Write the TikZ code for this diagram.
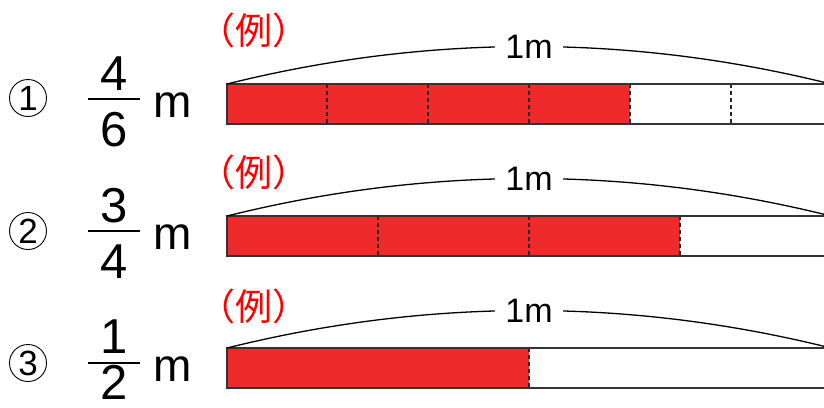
\documentclass[tikz,border=0pt]{standalone}
\usepackage{fontspec}
\setmainfont{Liberation Sans}
\newfontfamily\jpfont{Noto Sans CJK JP}
\definecolor{barred}{RGB}{238,42,42}

\tikzstyle{circnum}=[draw, circle, line width=0.9pt, minimum size=37pt, inner sep=0pt, font=\fontsize{35}{35}\selectfont]
\tikzstyle{digit}=[anchor=base, inner sep=0pt, font=\fontsize{49}{49}\selectfont]
\tikzstyle{unit}=[anchor=base west, inner sep=0pt, font=\fontsize{46}{46}\selectfont]
\tikzstyle{fracbar}=[line width=2pt]
\tikzstyle{example}=[text=red, inner sep=0pt, font=\jpfont\fontsize{37}{37}\selectfont]
\tikzstyle{tape}=[draw=black!80, line width=1.6pt]
\tikzstyle{divider}=[black!85, line width=1.6pt, dash pattern=on 4pt off 3pt]
\tikzstyle{arcline}=[line width=1.3pt]
\tikzstyle{spanlabel}=[fill=white, inner xsep=10pt, inner ysep=2pt, font=\fontsize{34}{34}\selectfont]

\begin{document}
\begin{tikzpicture}[x=1pt, y=-1pt]
      \useasboundingbox (0,0) rectangle (824,407);

      % row 1
      \node[circnum] (c1) at (28,98) {1};
      \node[digit] (n1) at (114,90) {4};
      \node[digit] (d1) at (114,146) {6};
      \draw[fracbar] (88,99) -- (140,99);
      \node[unit] (u1) at (153,117) {m};
      \node[example] (e1) at (254,30) {（例）};
      \coordinate (l1) at (227,84);
      \coordinate (r1) at (831,84);
      \fill[barred] (227,84) rectangle (630,124);
      \foreach \x in {327,428,529,630,731}
        \draw[divider] (\x,84) -- (\x,124);
      \draw[tape] (227,84) rectangle (831,124);
      \draw[arcline] (l1) .. controls (428,34) and (630,34) .. node[spanlabel] (s1) {1m} (r1);

      % row 2
      \node[circnum] (c2) at (28,231) {2};
      \node[digit] (n2) at (114,222) {3};
      \node[digit] (d2) at (114,278) {4};
      \draw[fracbar] (88,231) -- (140,231);
      \node[unit] (u2) at (153,249) {m};
      \node[example] (e2) at (254,172) {（例）};
      \coordinate (l2) at (227,216);
      \coordinate (r2) at (831,216);
      \fill[barred] (227,216) rectangle (680,256);
      \foreach \x in {378,529,680}
        \draw[divider] (\x,216) -- (\x,256);
      \draw[tape] (227,216) rectangle (831,256);
      \draw[arcline] (l2) .. controls (428,166) and (630,166) .. node[spanlabel] (s2) {1m} (r2);

      % row 3
      \node[circnum] (c3) at (28,363) {3};
      \node[digit] (n3) at (114,353) {1};
      \node[digit] (d3) at (114,399) {2};
      \draw[fracbar] (88,363) -- (140,363);
      \node[unit] (u3) at (153,381) {m};
      \node[example] (e3) at (254,306) {（例）};
      \coordinate (l3) at (227,348);
      \coordinate (r3) at (831,348);
      \fill[barred] (227,348) rectangle (529,388);
      \draw[divider] (529,348) -- (529,388);
      \draw[tape] (227,348) rectangle (831,388);
      \draw[arcline] (l3) .. controls (428,298) and (630,298) .. node[spanlabel] (s3) {1m} (r3);
    \end{tikzpicture}
\end{document}
